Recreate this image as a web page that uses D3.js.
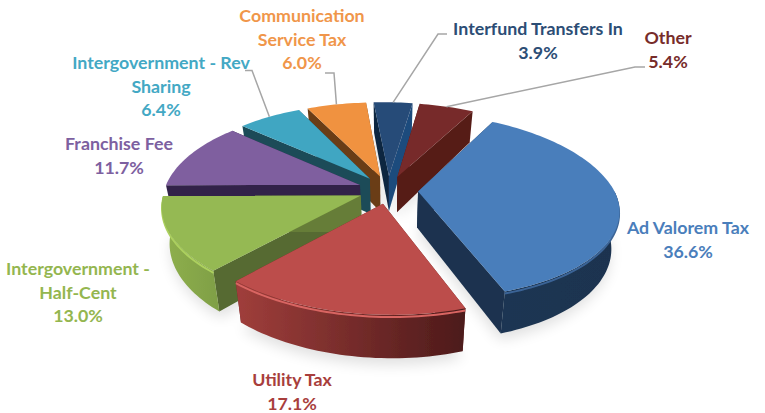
<!DOCTYPE html>
<html><head><meta charset="utf-8">
<script src="https://cdn.jsdelivr.net/npm/d3@7/dist/d3.min.js"></script>
<style>html,body{margin:0;padding:0;background:#fff;overflow:hidden}
text{font-family:Lato,"Open Sans",sans-serif;font-weight:700;font-size:17.8px;text-anchor:middle}</style>
</head><body><svg id="c" width="765" height="413"></svg>
<script>
const categories=["Ad Valorem Tax","Utility Tax","Intergovernment - Half-Cent","Franchise Fee","Intergovernment - Rev Sharing","Communication Service Tax","Interfund Transfers In","Other"];
const shares=[36.6,17.1,13.0,11.7,6.4,6.0,3.9,5.4];
const shareLabels=["36.6%","17.1%","13.0%","11.7%","6.4%","6.0%","3.9%","5.4%"];
const labelLines=[["Ad Valorem Tax"],["Utility Tax"],["Intergovernment -","Half-Cent"],["Franchise Fee"],["Intergovernment - Rev","Sharing"],["Communication","Service Tax"],["Interfund Transfers In"],["Other"]];

const topColors=["#4a7ebb","#bc4e4b","#95b952","#7f5f9f","#41a6c2","#f0923f","#264b78","#772a29"];
const textColors=["#4a7ebb","#a83e3c","#94b64f","#7d60a0","#43a8c4","#f0964a","#2c4d75","#772c2a"];
const startWall=["#1b3350","#6b2726","#566b30","#33234a","#1c4c58","#6b3d16","#0e2540","#4f1817"];
const endWall=["#1b3350","#6b2726","#667d38","#33234a","#1c4c58","#6b3d16","#1f4b7d","#571b19"];
const rimLeft=["#1d3552","#a03e3b","#8fb04e","#5b4577","#2f7a8e","#b06a2d","#1c3a5e","#5a1c1a"];
const rimRight=["#1b3350","#4c1a1a","#7f9f45","#3d2d52","#1c4c58","#6b3d16","#0e2540","#4f1817"];
const bevel=["#3a6496","#d96562","#acd05e","#8f6fb0","#51b8d4","#f7a55c","#36608f","#8a3534"];

const labelAnchors=[[688,228],[292,380],[78,269],[119,144],[161,63],[302,16],[538,29],[668,38]];
const lineHeight=23.5;
const leaderElbows=[null,null,null,null,[[245,70.5],[252,70.5]],[[325,73],[334,73]],[[447,34],[438,34]],[[645,67],[635,67]]];

const cx=388,cy=190,R=196,explode=30/196,depth=36,converge=0.035;
const rad=Math.PI/180;

function project(X,Y,z){
  const back=Y<0;
  const s=1/(1-(back?0.2:0.148)*Y);
  const x=R*X*s+(back?5.5:10.3)*Y;
  const y=R*(back?0.478:0.46)*Y*s;
  const f=1-converge*(z||0);
  return [cx+x*f, cy+y+(z||0)*depth*(1/(1-0.148*Y))];
}
const pie=d3.pie().sort(null).startAngle(30*rad).endAngle(390*rad);
const arcs=pie(shares).map((a,i)=>{
  const mid=(a.startAngle+a.endAngle)/2;
  return {...a,i,mid,ex:explode*Math.sin(mid),ey:-explode*Math.cos(mid)};
});
const pt=(a,ang,r,z)=>project(a.ex+r*Math.sin(ang),a.ey-r*Math.cos(ang),z);
const arcAngles=a=>{
  const n=Math.max(2,Math.ceil((a.endAngle-a.startAngle)/(1.5*rad)));
  return d3.range(n+1).map(j=>a.startAngle+(a.endAngle-a.startAngle)*j/n);
};
const line=d3.line();
const closed=p=>line(p)+"Z";

const svg=d3.select("#c");
const defs=svg.append("defs");
const blur=defs.append("filter").attr("id","sh").attr("x","-20%").attr("y","-20%").attr("width","140%").attr("height","140%");
blur.append("feGaussianBlur").attr("stdDeviation",7);
const soft=defs.append("filter").attr("id","soft");
soft.append("feGaussianBlur").attr("stdDeviation",0.45);
arcs.forEach(a=>{
  const g=defs.append("linearGradient").attr("id","rim"+a.i).attr("x1",0).attr("x2",1).attr("y1",0).attr("y2",0);
  g.append("stop").attr("offset",0).attr("stop-color",rimLeft[a.i]);
  g.append("stop").attr("offset",1).attr("stop-color",rimRight[a.i]);
});

// soft ground shadow
const shadow=svg.append("g").attr("filter","url(#sh)").attr("opacity",0.12);
arcs.forEach(a=>{
  const pts=[pt(a,0,0,1.15)].concat(arcAngles(a).map(t=>pt(a,t,1,1.15)));
  shadow.append("path").attr("d",closed(pts)).attr("fill","#000");
});

const pieG=svg.append("g").attr("filter","url(#soft)");
const order=arcs.slice().sort((p,q)=>d3.ascending(p.ey,q.ey));
order.forEach(a=>{
  const g=pieG.append("g");
  const wall=(ang,col)=>g.append("path")
    .attr("d",closed([pt(a,ang,0,0),pt(a,ang,1,0),pt(a,ang,1,1),pt(a,ang,0,1)]))
    .attr("fill",col);
  wall(a.startAngle,startWall[a.i]);
  wall(a.endAngle,endWall[a.i]);
  const angs=arcAngles(a);
  const frontAngs=angs.filter(t=>-Math.cos(t)>=-0.02);
  if(frontAngs.length>1){
    const rim=frontAngs.map(t=>pt(a,t,1,0)).concat(frontAngs.slice().reverse().map(t=>pt(a,t,1,1)));
    g.append("path").attr("d",closed(rim)).attr("fill",`url(#rim${a.i})`);
    g.append("path").attr("d",line(frontAngs.map(t=>pt(a,t,1,0.05)))).attr("fill","none").attr("stroke",bevel[a.i]).attr("stroke-width",2);
  }
  const top=[pt(a,0,0,0)].concat(angs.map(t=>pt(a,t,1,0)));
  g.append("path").attr("d",closed(top)).attr("fill",topColors[a.i]);
});

// leader lines
arcs.forEach(a=>{
  const e=leaderElbows[a.i]; if(!e) return;
  svg.append("path").attr("d",line(e.concat([pt(a,a.mid,1,0)])))
    .attr("fill","none").attr("stroke","#a6a6a6").attr("stroke-width",1.5);
});

// labels
arcs.forEach(a=>{
  const [x,y]=labelAnchors[a.i];
  const rows=labelLines[a.i].concat([shareLabels[a.i]]);
  rows.forEach((t,j)=>svg.append("text").attr("x",x).attr("y",y+j*lineHeight).attr("dy","0.35em")
    .attr("fill",textColors[a.i]).text(t));
});
</script></body></html>
